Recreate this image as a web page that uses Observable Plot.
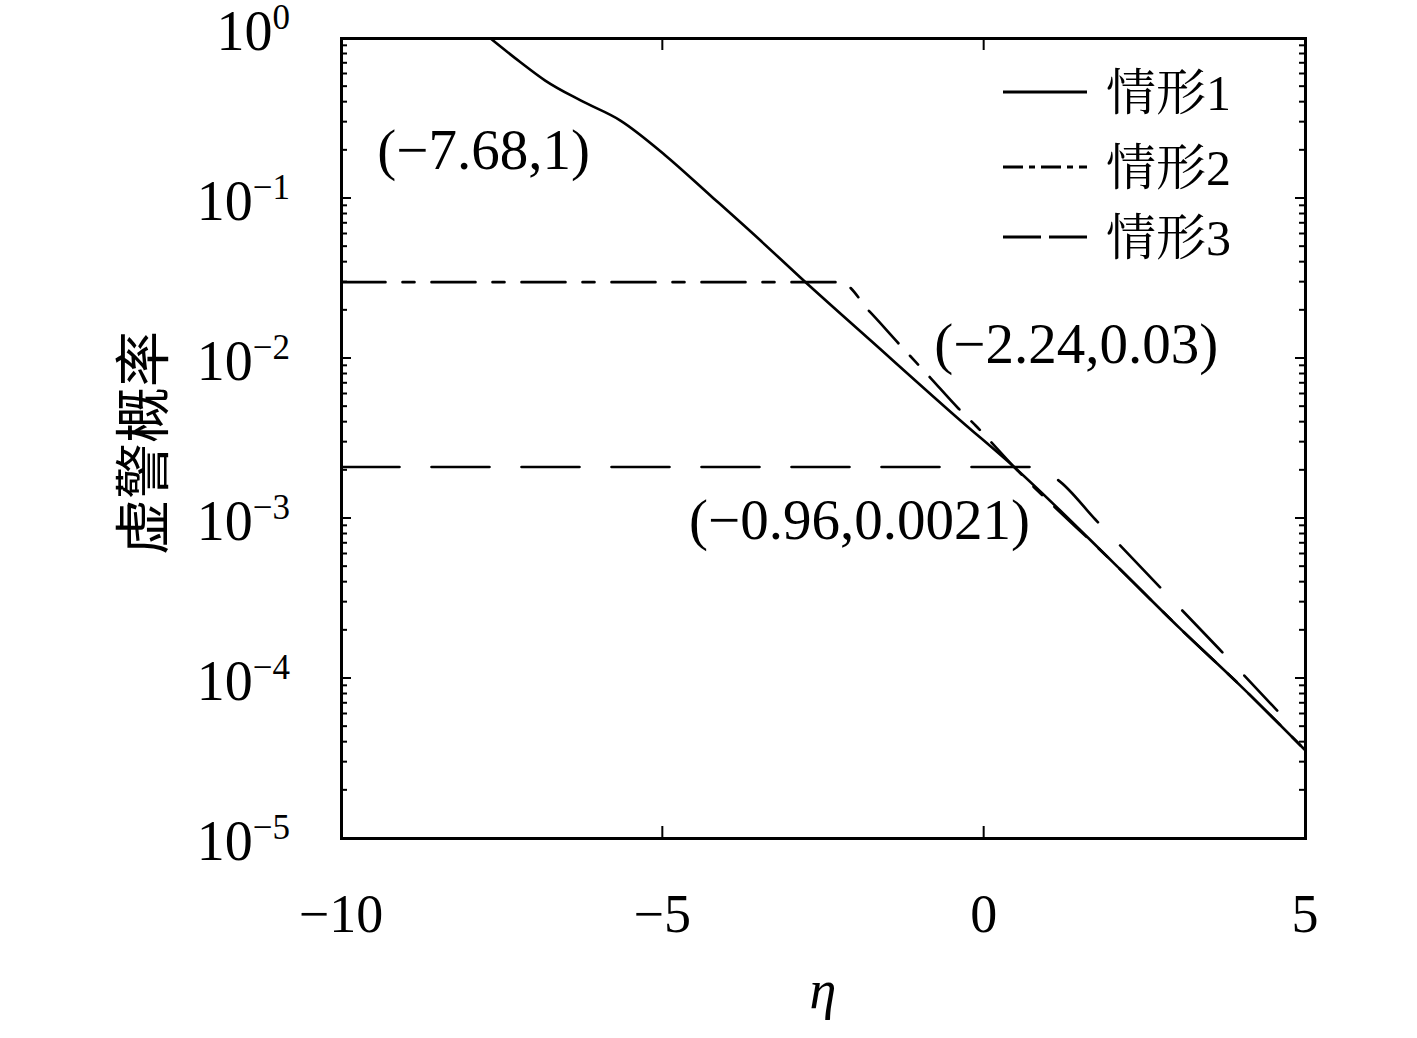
<!DOCTYPE html>
<html>
<head>
<meta charset="utf-8">
<script src="https://cdn.jsdelivr.net/npm/d3@7"></script>
<script src="https://cdn.jsdelivr.net/npm/@observablehq/plot@0.6"></script>
<style>
  html, body { margin: 0; padding: 0; background: #fff; }
  #chart { width: 1417px; height: 1038px; }
</style>
</head>
<body>
<div id="chart"></div>
<script>
// ---- data ----
const eta1 = [-7.68, -7.21, -6.83, -6.28, -5.66, -4.96, -4.26, -3.48, -2.86, -1.77, -0.37, 0.46, 2.01, 3.05, 3.99, 5.0];
const p1   = [1.0, 0.708, 0.546, 0.41, 0.307, 0.186, 0.1045, 0.0546, 0.0321, 0.013, 0.0041, 0.00211, 0.00053, 0.000205, 0.00009, 0.0000355];

const eta2 = [-10, -2.24, -1.77, -1.33, -0.84, -0.40, -0.13, 0.46, 2.01, 3.05, 3.99, 5.0];
const p2   = [0.03, 0.03, 0.0194, 0.0124, 0.0076, 0.00487, 0.0038, 0.00211, 0.00053, 0.000205, 0.00009, 0.0000355];

const eta3 = [-10, 0.69, 1.14, 1.73, 2.74, 3.65, 4.56];
const p3   = [0.0021, 0.0021, 0.00175, 0.000986, 0.00037, 0.000154, 0.000063];

const seriesNames = ["情形1", "情形2", "情形3"];
const xTicks = [-10, -5, 0, 5];
const xTickLabels = ["−10", "−5", "0", "5"];
const yTickExps = [0, -1, -2, -3, -4, -5];
const yTickLabels = ["0", "−1", "−2", "−3", "−4", "−5"];

const annX = [-7.68, -2.24, -0.96];
const annY = [1, 0.03, 0.0021];
const annText = ["(−7.68,1)", "(−2.24,0.03)", "(−0.96,0.0021)"];

const xLabel = "η";
const yLabel = "虚警概率";

// ---- build tables ----
const rows1 = eta1.map((x, i) => ({x, y: p1[i]}));
const rows2 = eta2.map((x, i) => ({x, y: p2[i]}));
const rows3 = eta3.map((x, i) => ({x, y: p3[i]}));
const ann = annX.map((x, i) => ({x, y: annY[i], t: annText[i]}));

const serif = "'Liberation Serif', 'DejaVu Serif', serif";
const cjk = "'Liberation Serif', 'Noto Serif CJK SC', 'Noto Sans CJK SC', serif";

const dashDot = "44,17,12,17";
const dashed = "58,32";

// custom axes: inward ticks on all four sides, superscript labels
function axesMark(index, scales, values, dim) {
  const {x, y} = scales;
  const L = dim.marginLeft, R = dim.width - dim.marginRight;
  const T = dim.marginTop, B = dim.height - dim.marginBottom;
  const g = d3.create("svg:g");
  const majY = yTickExps.map(e => Math.pow(10, e));
  const minY = [];
  for (let k = -5; k < 0; k++) for (let m = 2; m <= 9; m++) minY.push(m * Math.pow(10, k));
  const tk = g.append("g").attr("stroke", "black").attr("stroke-width", 2);
  for (const v of majY) {
    const yy = y(v);
    tk.append("line").attr("x1", L).attr("x2", L + 10).attr("y1", yy).attr("y2", yy);
    tk.append("line").attr("x1", R).attr("x2", R - 10).attr("y1", yy).attr("y2", yy);
  }
  for (const v of minY) {
    const yy = y(v);
    tk.append("line").attr("x1", L).attr("x2", L + 6).attr("y1", yy).attr("y2", yy);
    tk.append("line").attr("x1", R).attr("x2", R - 6).attr("y1", yy).attr("y2", yy);
  }
  for (const v of xTicks) {
    const xx = x(v);
    tk.append("line").attr("x1", xx).attr("x2", xx).attr("y1", B).attr("y2", B - 12);
    tk.append("line").attr("x1", xx).attr("x2", xx).attr("y1", T).attr("y2", T + 12);
  }
  // y tick labels 10^k
  yTickExps.forEach((e, i) => {
    const yy = y(Math.pow(10, e)) + (e === 0 ? -10 : 0);
    const t = g.append("text")
      .attr("x", L - 51).attr("y", yy + 22)
      .attr("text-anchor", "end")
      .attr("font-family", serif).attr("font-size", 56).attr("fill", "black");
    t.append("tspan").text("10");
    t.append("tspan").attr("dy", -21).attr("font-size", 35).text(yTickLabels[i]);
  });
  // x tick labels
  xTicks.forEach((v, i) => {
    g.append("text")
      .attr("x", x(v)).attr("y", B + 94)
      .attr("text-anchor", "middle")
      .attr("font-family", serif).attr("font-size", 54).attr("fill", "black")
      .text(xTickLabels[i]);
  });
  // axis titles
  g.append("text")
    .attr("x", (L + R) / 2).attr("y", B + 170)
    .attr("text-anchor", "middle")
    .attr("font-family", serif).attr("font-style", "italic")
    .attr("font-size", 54).attr("fill", "black")
    .text(xLabel);
  g.append("text")
    .attr("transform", `translate(${L - 203},${(T + B) / 2 + 5}) rotate(-90)`)
    .attr("text-anchor", "middle").attr("dominant-baseline", "central")
    .attr("font-family", "'Noto Sans CJK SC', sans-serif")
    .attr("font-size", 56).attr("fill", "black")
    .text(yLabel);
  return g.node();
}

function legendMark(index, scales, values, dim) {
  const R = dim.width - dim.marginRight;
  const T = dim.marginTop;
  const g = d3.create("svg:g");
  const rows = [
    {dy: 54, dash: null},
    {dy: 129, dash: "20,6,6,6"},
    {dy: 199, dash: "38,8"}
  ];
  rows.forEach((r, i) => {
    const yy = T + r.dy;
    const ln = g.append("line")
      .attr("x1", R - 302).attr("x2", R - 218)
      .attr("y1", yy).attr("y2", yy)
      .attr("stroke", "black").attr("stroke-width", 3);
    if (r.dash) ln.attr("stroke-dasharray", r.dash);
    g.append("text")
      .attr("x", R - 199).attr("y", yy + 18)
      .attr("text-anchor", "start")
      .attr("font-family", cjk).attr("font-size", 50).attr("fill", "black")
      .text(seriesNames[i]);
  });
  return g.node();
}

const textOpts = {x: "x", y: "y", text: "t", fontSize: 57, fontFamily: serif, fill: "black", textAnchor: "middle", lineAnchor: "middle"};

const chart = Plot.plot({
  width: 1417,
  height: 1038,
  marginLeft: 341,
  marginRight: 112,
  marginTop: 38,
  marginBottom: 200,
  style: {background: "white", overflow: "visible"},
  x: {domain: [-10, 5], axis: null},
  y: {type: "log", domain: [1e-5, 1], axis: null},
  marks: [
    Plot.line(rows3, {x: "x", y: "y", stroke: "black", strokeWidth: 2.6, strokeDasharray: dashed, curve: "monotone-x"}),
    Plot.line(rows2, {x: "x", y: "y", stroke: "black", strokeWidth: 2.6, strokeDasharray: dashDot, curve: "monotone-x"}),
    Plot.line(rows1, {x: "x", y: "y", stroke: "black", strokeWidth: 2.6, curve: "monotone-x"}),
    Plot.text([ann[0]], {...textOpts, dx: -7, dy: 112}),
    Plot.text([ann[1]], {...textOpts, dx: 236, dy: 63}),
    Plot.text([ann[2]], {...textOpts, dx: -63, dy: 54}),
    axesMark,
    legendMark,
    Plot.frame({stroke: "black", strokeWidth: 3})
  ]
});
document.getElementById("chart").appendChild(chart);
</script>
</body>
</html>
